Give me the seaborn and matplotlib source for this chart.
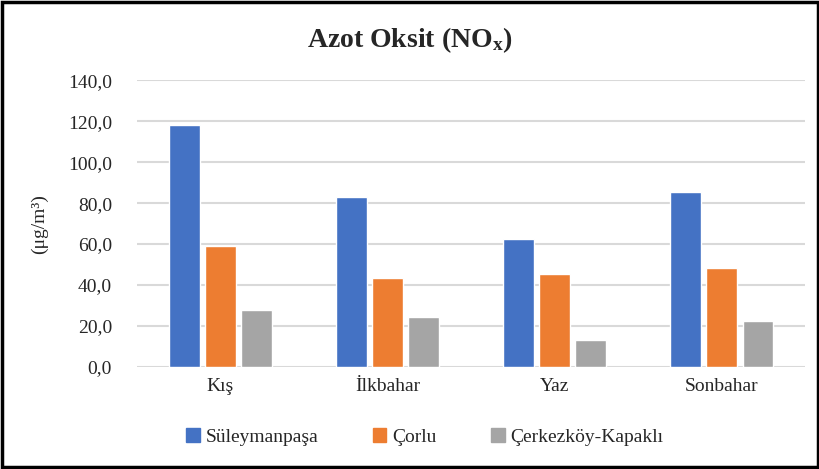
import matplotlib
matplotlib.use("Agg")
import matplotlib.pyplot as plt
import seaborn as sns
import pandas as pd
from matplotlib.patches import Rectangle

seasons = ["Kış", "İlkbahar", "Yaz", "Sonbahar"]
stations = ["Süleymanpaşa", "Çorlu", "Çerkezköy-Kapaklı"]
suleymanpasa = [118.0, 83.0, 62.3, 85.3]
corlu = [59.0, 43.5, 45.2, 48.2]
cerkezkoy = [27.8, 24.3, 13.2, 22.3]
colors = ["#4472C4", "#ED7D31", "#A5A5A5"]
yticks = [0, 20, 40, 60, 80, 100, 120, 140]

df = pd.DataFrame({
    "season": seasons * 3,
    "station": [s for s in stations for _ in seasons],
    "value": suleymanpasa + corlu + cerkezkoy,
})

sns.set_theme(style="white")
plt.rcParams["font.family"] = ["Liberation Serif", "DejaVu Serif"]
plt.rcParams["mathtext.fontset"] = "custom"
plt.rcParams["mathtext.rm"] = "Liberation Serif"
plt.rcParams["mathtext.it"] = "Liberation Serif:italic"
plt.rcParams["mathtext.bf"] = "Liberation Serif:bold"

fig = plt.figure(figsize=(8.2, 4.69), dpi=100)
ax = fig.add_axes([0.167, 0.2175, 0.815, 0.6115])

sns.barplot(data=df, x="season", y="value", hue="station", palette=colors,
            width=0.65, gap=0.15, ax=ax, legend=False, saturation=1)

ax.set_ylim(0, 140)
ax.set_yticks(yticks)
ax.set_yticklabels([f"{v:.1f}".replace(".", ",") for v in yticks], fontsize=14)
ax.set_xticks(range(len(seasons)))
ax.set_xticklabels(seasons, fontsize=14)
ax.grid(axis="y", color="#d9d9d9", linewidth=1.5)
ax.set_axisbelow(True)
for s in ax.spines.values():
    s.set_visible(False)
ax.tick_params(axis="y", length=0, pad=18)
ax.tick_params(axis="x", length=0, pad=8)
ax.set_xlabel("")
ax.set_ylabel("(μg/m³)", fontsize=14, labelpad=14)

fig.text(0.5, 0.915, r"Azot Oksit (NO$_{\mathbf{x}}$)", ha="center", va="center",
         fontsize=20, fontweight="bold")

handles = [Rectangle((0, 0), 1, 1, color=c) for c in colors]
fig.legend(handles, stations, loc="center", bbox_to_anchor=(0.518, 0.068), ncol=3,
           frameon=False, fontsize=14, handlelength=0.7, handleheight=0.7,
           handletextpad=0.3, columnspacing=2.8)

fig.patches.append(Rectangle((0.003, 0.005), 0.994, 0.99, transform=fig.transFigure,
                             fill=False, edgecolor="black", linewidth=2.5))

fig.savefig("out.png", dpi=100)
